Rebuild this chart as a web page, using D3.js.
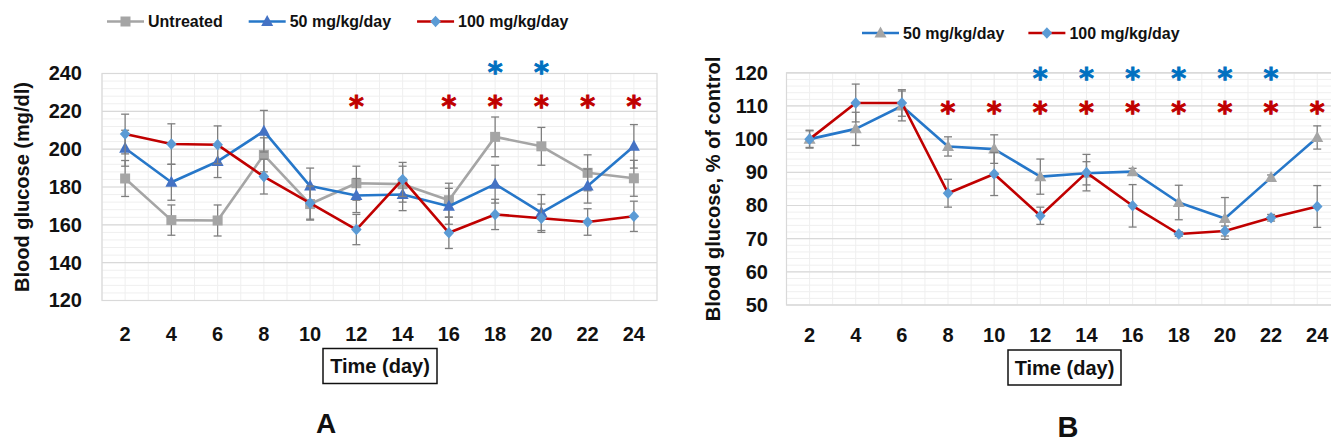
<!DOCTYPE html>
<html>
<head>
<meta charset="utf-8">
<script src="https://cdn.jsdelivr.net/npm/d3@7"></script>
<style>
  body { margin: 0; background: #fff; }
  svg { display: block; }
  text { font-family: "Liberation Sans", Arial, Helvetica, sans-serif; font-weight: bold; }
  text.star { font-family: "DejaVu Sans", sans-serif; font-weight: bold; }
</style>
</head>
<body>
<svg id="chart" width="1331" height="444"></svg>
<script>
// Sampling days (x categories)
const days = [2, 4, 6, 8, 10, 12, 14, 16, 18, 20, 22, 24];

// Panel A: blood glucose, mg/dl (mean and SE)
const glucoseUntreated    = [184.5, 162.5, 162.3, 197.0, 171.0, 182.0, 181.5, 173.0, 206.5, 201.5, 187.5, 184.6];
const glucoseUntreatedErr = [9.5, 8.0, 8.2, 9.0, 8.0, 9.0, 9.5, 9.0, 10.5, 10.0, 9.5, 9.5];
const glucose50           = [200.5, 182.5, 193.5, 209.5, 180.5, 175.5, 176.0, 169.8, 181.5, 166.5, 180.5, 201.5];
const glucose50Err        = [9.5, 9.5, 8.5, 11.0, 9.5, 9.0, 8.5, 9.5, 10.0, 9.5, 9.0, 11.5];
const glucose100          = [208.0, 202.7, 202.3, 185.5, 171.5, 157.5, 184.0, 155.8, 165.5, 163.5, 161.5, 164.5];
const glucose100Err       = [10.5, 10.7, 10.0, 9.2, 9.0, 8.0, 9.0, 8.3, 8.0, 7.5, 7.0, 8.0];

// Panel B: blood glucose as % of untreated control (mean and SE)
const percent50      = [100.0, 103.1, 110.0, 97.8, 97.0, 88.7, 89.7, 90.2, 80.9, 76.1, 88.4, 100.5];
const percent50Err   = [2.7, 5.0, 4.5, 2.9, 4.3, 5.3, 3.5, 1.0, 5.2, 6.3, 0.8, 3.5];
const percent100     = [100.0, 110.9, 110.9, 83.7, 89.5, 76.9, 89.9, 79.9, 71.4, 72.3, 76.3, 79.7];
const percent100Err  = [2.5, 5.7, 4.0, 4.2, 6.5, 2.6, 5.5, 6.4, 0.7, 1.5, 1.0, 6.3];

// Days marked as significant
const starsA100 = [12, 16, 18, 20, 22, 24];
const starsA50  = [18, 20];
const starsB100 = [8, 10, 12, 14, 16, 18, 20, 22, 24];
const starsB50  = [12, 14, 16, 18, 20, 22];

// Axis ticks
const ticksA = [120, 140, 160, 180, 200, 220, 240];
const ticksB = [50, 60, 70, 80, 90, 100, 110, 120];

const RED = "#c00000", BLUE = "#2677c9", STAR_BLUE = "#0070c0",
      GRAY = "#a5a5a5", TRI_BLUE = "#4472c4", DIA_BLUE = "#5b9bd5", ERR = "#7f7f7f";

const svg = d3.select("#chart");

// marker shapes
const markers = {
  square: (g, fill) => g.append("rect").attr("x", -5).attr("y", -5).attr("width", 10).attr("height", 10).attr("fill", fill),
  triangle: (g, fill) => g.append("path").attr("d", "M0,-6.5L6,4.5L-6,4.5Z").attr("fill", fill),
  diamond: (g, fill) => g.append("path").attr("d", "M0,-5.8L5.3,0L0,5.8L-5.3,0Z").attr("fill", fill)
};

function drawPanel(cfg) {
  const x = d3.scaleBand().domain(days).range([cfg.left, cfg.right]);
  const cx = d => x(d) + x.bandwidth() / 2;
  const y = d3.scaleLinear().domain(cfg.domain).range([cfg.bottom, cfg.top]);
  const g = svg.append("g");

  // minor horizontal gridlines
  g.append("g").selectAll("line")
    .data(d3.range(cfg.domain[0], cfg.domain[1] + 0.001, cfg.minor))
    .join("line")
    .attr("x1", cfg.left).attr("x2", cfg.right)
    .attr("y1", d => y(d)).attr("y2", d => y(d))
    .attr("stroke", "#efefef").attr("stroke-width", 1);

  // vertical gridlines at category centres and boundaries
  const vx = [];
  days.forEach(d => { vx.push(x(d)); vx.push(cx(d)); });
  g.append("g").selectAll("line").data(vx).join("line")
    .attr("x1", d => d).attr("x2", d => d)
    .attr("y1", cfg.top).attr("y2", cfg.bottom)
    .attr("stroke", "#efefef").attr("stroke-width", 1);

  // major horizontal gridlines
  g.append("g").selectAll("line").data(cfg.ticks).join("line")
    .attr("x1", cfg.left).attr("x2", cfg.right)
    .attr("y1", d => y(d)).attr("y2", d => y(d))
    .attr("stroke", "#d9d9d9").attr("stroke-width", 1.2);

  // plot area frame
  g.append("rect")
    .attr("x", cfg.left).attr("y", cfg.top)
    .attr("width", cfg.right - cfg.left).attr("height", cfg.bottom - cfg.top)
    .attr("fill", "none").attr("stroke", "#d9d9d9").attr("stroke-width", 1.2);

  // y axis
  const yAxis = g.append("g").attr("transform", `translate(${cfg.left},0)`)
    .call(d3.axisLeft(y).tickValues(cfg.ticks).tickSize(0).tickPadding(cfg.yPad));
  yAxis.select(".domain").remove();
  yAxis.selectAll("text").attr("font-size", 20).attr("fill", "#111")
    .style("font-family", "'Liberation Sans', Arial, sans-serif").style("font-weight", "bold");

  // x axis
  const xAxis = g.append("g").attr("transform", `translate(0,${cfg.bottom})`)
    .call(d3.axisBottom(x).tickSize(0).tickPadding(cfg.xPad));
  xAxis.select(".domain").remove();
  xAxis.selectAll("text").attr("font-size", 20).attr("fill", "#111")
    .style("font-family", "'Liberation Sans', Arial, sans-serif").style("font-weight", "bold");

  // series: error bars, line, markers
  cfg.series.forEach(s => {
    const eg = g.append("g");
    days.forEach((d, i) => {
      const v = s.values[i], e = s.err[i];
      eg.append("line").attr("x1", cx(d)).attr("x2", cx(d))
        .attr("y1", y(v - e)).attr("y2", y(v + e))
        .attr("stroke", ERR).attr("stroke-width", 1.3);
      [v - e, v + e].forEach(t => eg.append("line")
        .attr("x1", cx(d) - 4).attr("x2", cx(d) + 4)
        .attr("y1", y(t)).attr("y2", y(t))
        .attr("stroke", ERR).attr("stroke-width", 1.3));
    });
    g.append("path")
      .datum(s.values)
      .attr("fill", "none").attr("stroke", s.line).attr("stroke-width", 2.6)
      .attr("stroke-linejoin", "round")
      .attr("d", d3.line().x((v, i) => cx(days[i])).y(v => y(v)));
    days.forEach((d, i) => {
      const mg = g.append("g").attr("transform", `translate(${cx(d)},${y(s.values[i])})`);
      markers[s.marker](mg, s.fill);
    });
  });

  // significance asterisks
  cfg.stars.forEach(st => {
    g.append("g").selectAll("text").data(st.days).join("text")
      .attr("class", "star")
      .attr("x", d => cx(d))
      .attr("y", y(st.level) + 14.8)
      .attr("text-anchor", "middle")
      .attr("font-size", 28.5)
      .attr("fill", st.color)
      .attr("stroke", st.color).attr("stroke-width", 0.9)
      .text("*");
  });

  // y axis title
  g.append("text")
    .attr("transform", `translate(${cfg.titleX},${cfg.titleY}) rotate(-90)`)
    .attr("text-anchor", "middle").attr("dominant-baseline", "central")
    .attr("font-size", 20).attr("fill", "#111")
    .text(cfg.yTitle);

  // x axis title in a box
  const tb = cfg.timeBox;
  g.append("rect").attr("x", tb.x).attr("y", tb.y).attr("width", tb.w).attr("height", tb.h)
    .attr("fill", "#fff").attr("stroke", "#111").attr("stroke-width", 1.5);
  g.append("text").attr("x", tb.x + tb.w / 2).attr("y", tb.y + tb.h / 2)
    .attr("text-anchor", "middle").attr("dominant-baseline", "central")
    .attr("font-size", 20).attr("fill", "#111").text("Time (day)");

  // panel letter
  g.append("text").attr("x", cfg.letter.x).attr("y", cfg.letter.y)
    .attr("text-anchor", "middle").attr("font-size", cfg.letter.size).attr("fill", "#111")
    .text(cfg.letter.text);

  // legend
  let lx = cfg.legend.x;
  const ly = cfg.legend.y;
  cfg.series.forEach(s => {
    const lg = g.append("g");
    lg.append("line").attr("x1", lx).attr("x2", lx + 37).attr("y1", ly).attr("y2", ly)
      .attr("stroke", s.line).attr("stroke-width", 2.6);
    const mg = lg.append("g").attr("transform", `translate(${lx + 18.5},${ly})`);
    markers[s.marker](mg, s.fill);
    const t = lg.append("text").attr("x", lx + 41).attr("y", ly)
      .attr("dominant-baseline", "central").attr("font-size", 16).attr("fill", "#111")
      .text(s.name);
    lx += 41 + t.node().getComputedTextLength() + cfg.legend.gap;
  });
}

drawPanel({
  left: 102, right: 657, top: 73.5, bottom: 300.5,
  domain: [120, 240], ticks: ticksA, minor: 4,
  yPad: 20, xPad: 26,
  series: [
    { name: "Untreated", values: glucoseUntreated, err: glucoseUntreatedErr, line: GRAY, fill: GRAY, marker: "square" },
    { name: "50 mg/kg/day", values: glucose50, err: glucose50Err, line: BLUE, fill: TRI_BLUE, marker: "triangle" },
    { name: "100 mg/kg/day", values: glucose100, err: glucose100Err, line: RED, fill: DIA_BLUE, marker: "diamond" }
  ],
  stars: [
    { days: starsA100, level: 225.6, color: RED },
    { days: starsA50, level: 243.4, color: STAR_BLUE }
  ],
  yTitle: "Blood glucose (mg/dl)", titleX: 22, titleY: 187,
  timeBox: { x: 323, y: 348.5, w: 114, h: 35 },
  letter: { text: "A", x: 326, y: 433, size: 28 },
  legend: { x: 107, y: 21.5, gap: 26 }
});

drawPanel({
  left: 786.5, right: 1340.3, top: 72.8, bottom: 305,
  domain: [50, 120], ticks: ticksB, minor: 2,
  yPad: 18.5, xPad: 23,
  series: [
    { name: "50 mg/kg/day", values: percent50, err: percent50Err, line: BLUE, fill: GRAY, marker: "triangle" },
    { name: "100 mg/kg/day", values: percent100, err: percent100Err, line: RED, fill: DIA_BLUE, marker: "diamond" }
  ],
  stars: [
    { days: starsB100, level: 109.7, color: RED },
    { days: starsB50, level: 120, color: STAR_BLUE }
  ],
  yTitle: "Blood glucose, % of control", titleX: 713, titleY: 189,
  timeBox: { x: 1008, y: 350, w: 113, h: 35 },
  letter: { text: "B", x: 1068, y: 437, size: 29 },
  legend: { x: 862, y: 33, gap: 24 }
});
</script>
</body>
</html>
